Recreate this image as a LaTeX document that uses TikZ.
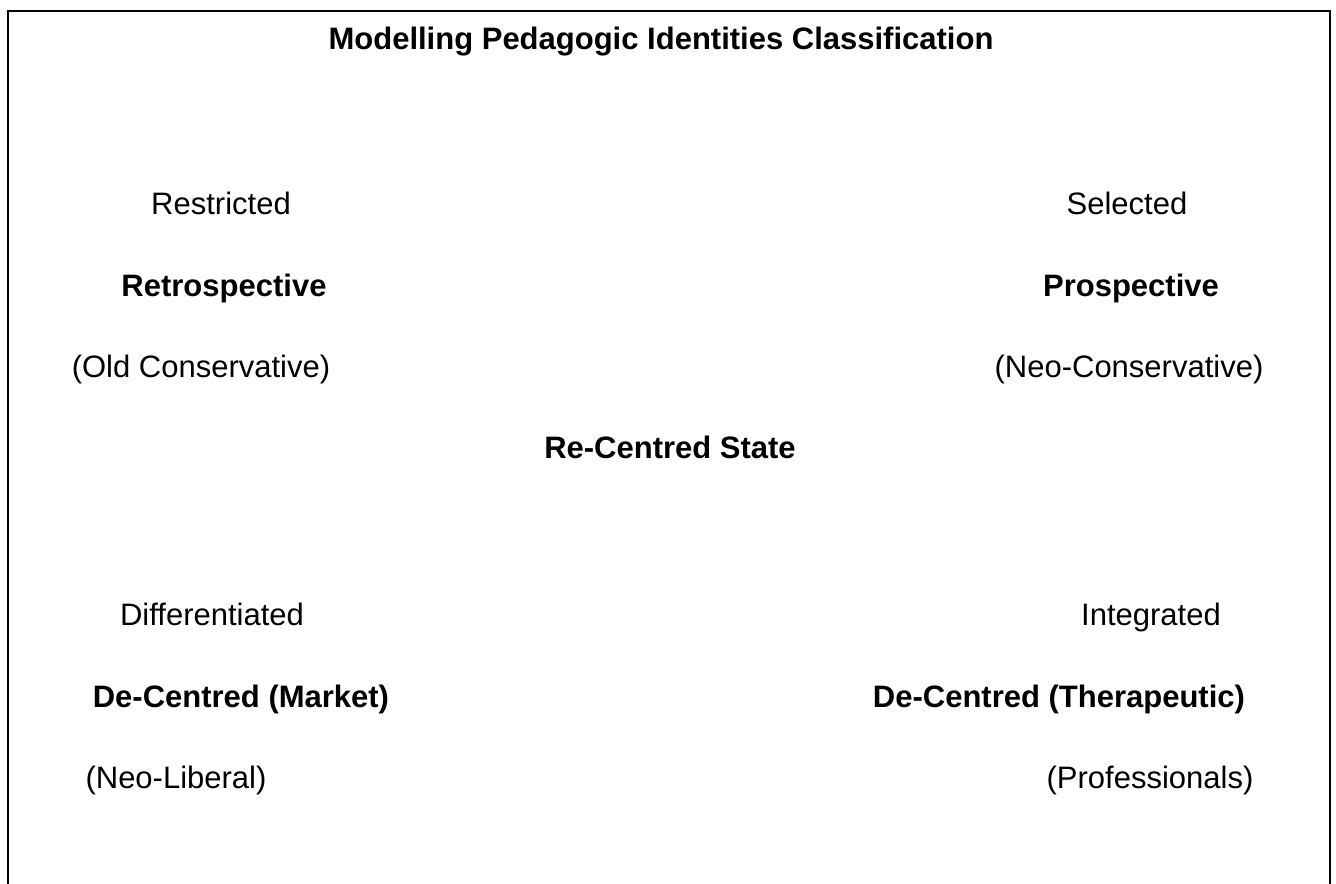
\documentclass[tikz,border=0pt]{standalone}
\usepackage{fontspec}
\setmainfont{Liberation Sans}
\usepackage{tikz}

\begin{document}
\begin{tikzpicture}[x=0.75pt,y=0.75pt,yscale=-1,xscale=1,
  txt/.style={anchor=base,inner sep=0pt,font=\fontsize{23.25pt}{28pt}\selectfont},
  btxt/.style={txt,font=\fontsize{23.25pt}{28pt}\selectfont\bfseries}]
\useasboundingbox (0,0) rectangle (1336,884);

%Straight Lines: frame, open at the bottom
\coordinate (bl) at (8,884);
\coordinate (tl) at (8,11);
\coordinate (tr) at (1330,11);
\coordinate (br) at (1330,884);
\draw [line width=1.5pt] (bl) -- (tl) -- (tr) -- (br);

% Text Node
\node [btxt] (title) at (661,50) {Modelling Pedagogic Identities Classification};

% Text Node
\node [txt] (restricted) at (221,215) {Restricted};
% Text Node
\node [btxt] (retro) at (224,297) {Retrospective};
% Text Node
\node [txt] (oldcons) at (201,378) {(Old Conservative)};

% Text Node
\node [txt] (selected) at (1127,215) {Selected};
% Text Node
\node [btxt] (prosp) at (1131,297) {Prospective};
% Text Node
\node [txt] (neocons) at (1129,378) {(Neo-Conservative)};

% Text Node
\node [btxt] (recentred) at (670,458) {Re-Centred State};

% Text Node
\node [txt] (diff) at (212,625) {Differentiated};
% Text Node
\node [btxt] (market) at (241,707) {De-Centred (Market)};
% Text Node
\node [txt] (neolib) at (176,788) {(Neo-Liberal)};

% Text Node
\node [txt] (integ) at (1151,625) {Integrated};
% Text Node
\node [btxt] (therap) at (1059,707) {De-Centred (Therapeutic)};
% Text Node
\node [txt] (prof) at (1150,788) {(Professionals)};

\end{tikzpicture}
\end{document}
